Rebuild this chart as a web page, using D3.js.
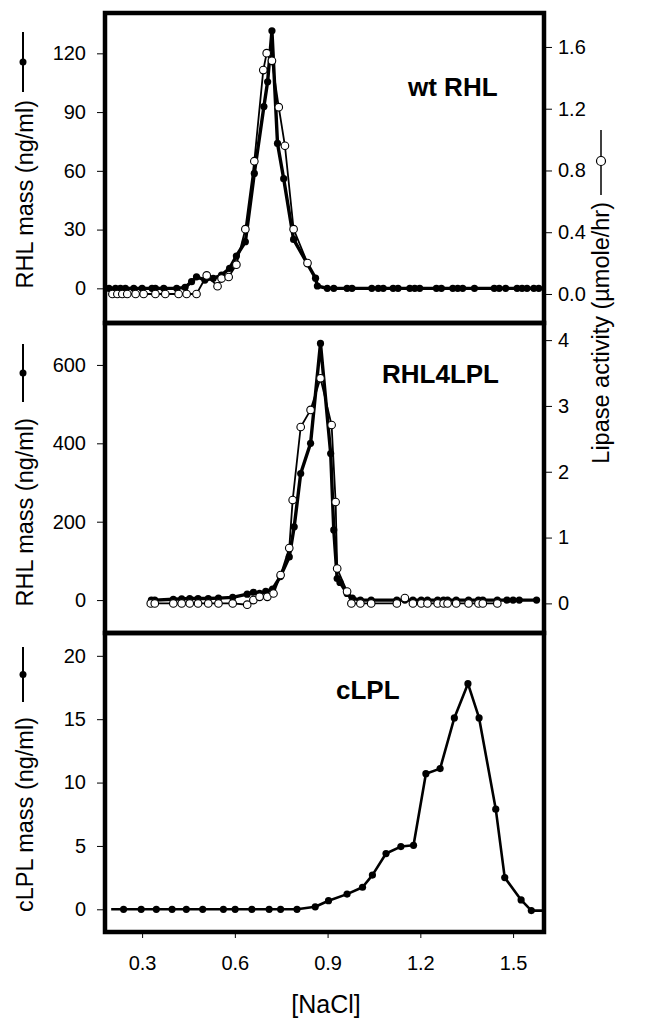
<!DOCTYPE html>
<html>
<head>
<meta charset="utf-8">
<script src="https://cdn.jsdelivr.net/npm/d3@7"></script>
<style>
  body { margin: 0; background: #fff; }
  svg text { font-family: "Liberation Sans", Arial, sans-serif; fill: #000; }
</style>
</head>
<body>
<div id="chart"></div>
<script>
// [NaCl] ticks shared by all three panels
const naclTicks = [0.3, 0.6, 0.9, 1.2, 1.5];

// wt RHL: mass (filled) and lipase activity (open)
const wtMassNaCl = [0.193, 0.214, 0.23, 0.246, 0.273, 0.3, 0.332, 0.343, 0.37, 0.412, 0.439, 0.46, 0.476, 0.503, 0.53, 0.557, 0.583, 0.605, 0.634, 0.663, 0.694, 0.706, 0.72, 0.738, 0.758, 0.79, 0.861, 0.867, 0.899, 0.92, 0.963, 0.979, 1.043, 1.064, 1.08, 1.112, 1.128, 1.166, 1.182, 1.198, 1.252, 1.268, 1.305, 1.321, 1.337, 1.375, 1.439, 1.455, 1.476, 1.513, 1.529, 1.545, 1.567, 1.583];
const wtMass = [0, 0, 0, 0, 0, 0, 0, 0, 0, 0, 0.5, 3.4, 5.9, 4.2, 5.1, 6.8, 10.2, 16.5, 23.8, 58.7, 92.8, 105.5, 131.5, 74, 56, 25, 5.2, 1.2, 0, 0, 0, 0, 0, 0, 0, 0, 0, 0, 0, 0, 0, 0, 0, 0, 0, 0, 0, 0, 0, 0, 0, 0, 0, 0];
const wtActNaCl = [0.204, 0.22, 0.236, 0.252, 0.279, 0.305, 0.343, 0.375, 0.418, 0.444, 0.476, 0.509, 0.544, 0.557, 0.58, 0.605, 0.634, 0.663, 0.692, 0.703, 0.72, 0.742, 0.762, 0.79, 0.835];
const wtAct = [0, 0, 0, 0, 0, 0, 0, 0, 0, 0, 0, 0.12, 0.05, 0.1, 0.11, 0.19, 0.42, 0.86, 1.45, 1.56, 1.51, 1.21, 0.96, 0.42, 0.2];

// RHL4LPL
const chMassNaCl = [0.33, 0.341, 0.401, 0.428, 0.454, 0.481, 0.514, 0.547, 0.593, 0.64, 0.66, 0.68, 0.7, 0.722, 0.747, 0.776, 0.792, 0.813, 0.845, 0.877, 0.91, 0.92, 0.931, 0.94, 0.963, 0.98, 1.006, 1.041, 1.124, 1.15, 1.176, 1.203, 1.223, 1.256, 1.275, 1.288, 1.316, 1.356, 1.388, 1.402, 1.449, 1.48, 1.5, 1.52, 1.576];
const chMass = [0, 0, 2, 3, 4, 4, 4, 5, 7, 15, 20, 17, 22, 28, 60, 110, 187, 323, 400, 655, 374, 179, 55, 45, 17, 5, 0, 0, 0, 0, 0, 0, 0, 0, 0, 0, 0, 0, 0, 0, 0, 0, 0, 0, 0];
const chActNaCl = [0.328, 0.341, 0.401, 0.428, 0.454, 0.481, 0.514, 0.547, 0.593, 0.64, 0.66, 0.68, 0.705, 0.725, 0.748, 0.776, 0.787, 0.813, 0.845, 0.877, 0.913, 0.926, 0.931, 0.963, 0.977, 1.006, 1.041, 1.124, 1.15, 1.176, 1.203, 1.223, 1.256, 1.275, 1.288, 1.316, 1.356, 1.388, 1.402, 1.449];
const chAct = [0, 0, 0, 0, 0, 0, 0, 0, 0, -0.02, 0.05, 0.1, 0.1, 0.15, 0.43, 0.84, 1.57, 2.68, 2.94, 3.42, 2.71, 1.54, 0.53, 0.18, 0, 0, 0, 0, 0.08, 0, 0, 0, 0, 0, 0, 0, 0, 0, 0, 0];

// cLPL mass only
const clplNaCl = [0.2, 0.24, 0.297, 0.346, 0.397, 0.443, 0.496, 0.563, 0.601, 0.655, 0.711, 0.748, 0.801, 0.86, 0.903, 0.963, 1.013, 1.045, 1.089, 1.137, 1.178, 1.218, 1.264, 1.31, 1.354, 1.39, 1.444, 1.473, 1.526, 1.559, 1.6];
const clplMass = [0, 0, 0, 0, 0, 0, 0, 0, 0, 0, 0, 0, 0, 0.2, 0.68, 1.2, 1.74, 2.7, 4.4, 4.95, 5.05, 10.7, 11.1, 15.1, 17.8, 15.1, 7.9, 2.5, 0.74, -0.1, -0.1];

const W = 648, H = 1019;
const left = 105, right = 544;

const svg = d3.select("#chart").append("svg")
  .attr("width", W).attr("height", H);

const x = d3.scaleLinear().domain([0.18, 1.6]).range([left, right]);

const line = (xs, ys, yScale) => d3.line()
  .x((d, i) => x(xs[i]))
  .y((d) => yScale(d))(ys);

function panel(top, bottom, leftDomain, leftTicks, rightDomain, rightTicks, rightFmt) {
  const yL = d3.scaleLinear().domain(leftDomain).range([bottom, top]);
  const g = svg.append("g");

  const axL = g.append("g").attr("transform", `translate(${left},0)`)
    .call(d3.axisLeft(yL).tickValues(leftTicks).tickSize(8).tickPadding(11).tickFormat(d3.format("d")));
  axL.select(".domain").remove();
  axL.selectAll("text").style("font-size", "20px");

  let yR = null;
  if (rightDomain) {
    yR = d3.scaleLinear().domain(rightDomain).range([bottom, top]);
    const axR = g.append("g").attr("transform", `translate(${right},0)`)
      .call(d3.axisRight(yR).tickValues(rightTicks).tickSize(8).tickPadding(6).tickFormat(rightFmt));
    axR.select(".domain").remove();
    axR.selectAll("text").style("font-size", "20px");
  }

  g.append("rect")
    .attr("x", left).attr("y", top)
    .attr("width", right - left).attr("height", bottom - top)
    .attr("fill", "none").attr("stroke", "#000").attr("stroke-width", 4.5);
  return { g, yL, yR };
}

function filledSeries(g, xs, ys, yScale, width, skipEnds) {
  g.append("path").attr("d", line(xs, ys, yScale))
    .attr("fill", "none").attr("stroke", "#000").attr("stroke-width", width)
    .attr("stroke-linejoin", "round");
  g.selectAll(null)
    .data(ys.map((v, i) => [xs[i], v]).filter((d, i) => !skipEnds || (i > 0 && i < ys.length - 1)))
    .enter().append("circle")
    .attr("cx", (d) => x(d[0])).attr("cy", (d) => yScale(d[1]))
    .attr("r", 3.6).attr("fill", "#000");
}

function openSeries(g, xs, ys, yScale) {
  g.append("path").attr("d", line(xs, ys, yScale))
    .attr("fill", "none").attr("stroke", "#000").attr("stroke-width", 1.8);
  g.selectAll(null)
    .data(ys.map((v, i) => [xs[i], v]))
    .enter().append("circle")
    .attr("cx", (d) => x(d[0])).attr("cy", (d) => yScale(d[1]))
    .attr("r", 3.8).attr("fill", "#fff").attr("stroke", "#000").attr("stroke-width", 1.1);
}

// panels
const p1 = panel(13, 323, [-17.7, 140.6], [0, 30, 60, 90, 120], [-0.188, 1.82], [0, 0.4, 0.8, 1.2, 1.6], d3.format(".1f"));
filledSeries(p1.g, wtMassNaCl, wtMass, p1.yL, 3.4);
openSeries(p1.g, wtActNaCl, wtAct, p1.yR);

const p2 = panel(323, 633, [-84, 707], [0, 200, 400, 600], [-0.45, 4.26], [0, 1, 2, 3, 4], d3.format("d"));
filledSeries(p2.g, chMassNaCl, chMass, p2.yL, 3.4);
openSeries(p2.g, chActNaCl, chAct, p2.yR);

const p3 = panel(633, 932, [-1.79, 21.8], [0, 5, 10, 15, 20], null);
filledSeries(p3.g, clplNaCl, clplMass, p3.yL, 2.6, true);

// x axis
const axX = svg.append("g").attr("transform", "translate(0,932)")
  .call(d3.axisBottom(x).tickValues(naclTicks).tickSize(6).tickPadding(18).tickFormat(d3.format(".1f")));
axX.select(".domain").remove();
axX.selectAll("text").style("font-size", "20px");

svg.append("text").attr("x", 326).attr("y", 1013).attr("text-anchor", "middle")
  .style("font-size", "25px").text("[NaCl]");

// panel labels
const labels = [["wt RHL", 408, 96], ["RHL4LPL", 382, 383], ["cLPL", 336, 699]];
labels.forEach(([t, lx, ly]) => {
  svg.append("text").attr("x", lx).attr("y", ly)
    .style("font-size", "26px").style("font-weight", "bold").text(t);
});

// rotated axis titles with series symbols
function leftTitle(txt, endY, symTop, symBot) {
  svg.append("text")
    .attr("transform", `translate(33,${endY}) rotate(-90)`)
    .attr("text-anchor", "end")
    .style("font-size", "23.5px").text(txt);
  svg.append("line").attr("x1", 23).attr("x2", 23).attr("y1", symTop).attr("y2", symBot)
    .attr("stroke", "#000").attr("stroke-width", 2);
  svg.append("circle").attr("cx", 23).attr("cy", (symTop + symBot) / 2).attr("r", 3.5).attr("fill", "#000");
}
leftTitle("RHL mass (ng/ml)", 100, 32, 92);
leftTitle("RHL mass (ng/ml)", 418, 344, 402);
leftTitle("cLPL mass (ng/ml)", 717, 647, 702);

svg.append("text")
  .attr("transform", "translate(609,202) rotate(-90)")
  .attr("text-anchor", "end")
  .style("font-size", "23.5px").text("Lipase activity (µmole/hr)");
svg.append("line").attr("x1", 601).attr("x2", 601).attr("y1", 130).attr("y2", 195)
  .attr("stroke", "#000").attr("stroke-width", 1.5);
svg.append("circle").attr("cx", 601).attr("cy", 161).attr("r", 4.5)
  .attr("fill", "#fff").attr("stroke", "#000").attr("stroke-width", 1.2);
</script>
</body>
</html>
